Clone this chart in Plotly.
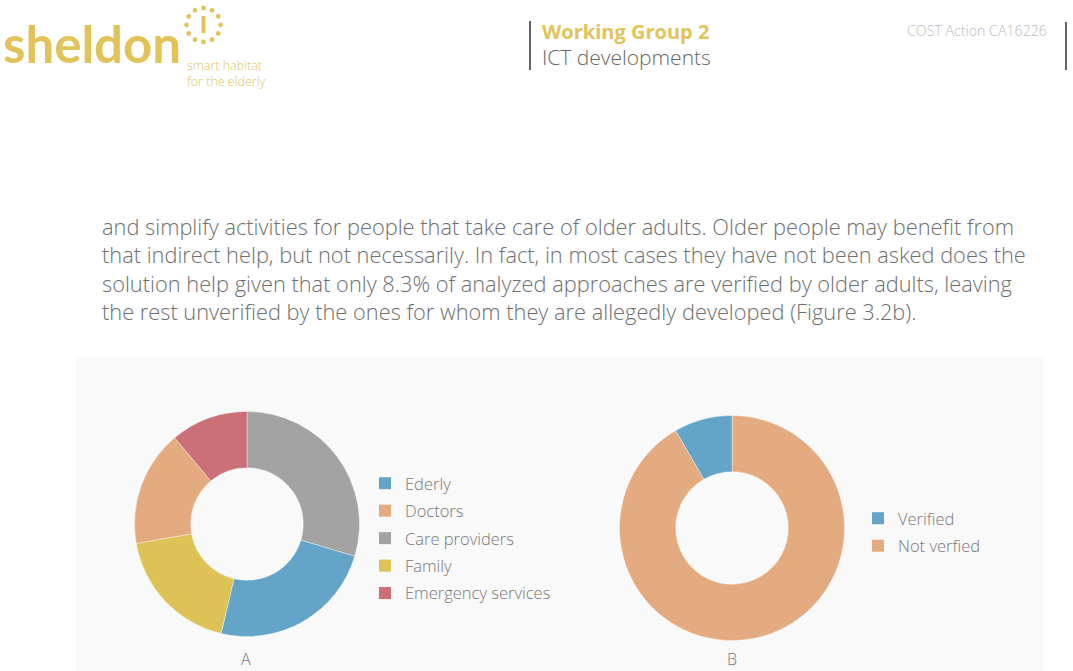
import math
import plotly.graph_objects as go

W, H = 1073, 671

# ---------------- data ----------------
legend_a = ["Ederly", "Doctors", "Care providers", "Family", "Emergency services"]
colors_a = ["#63a4c8", "#e4ab80", "#a3a3a3", "#ddc255", "#cb7076"]
# slice order as drawn clockwise from 12 o'clock
slices_a = ["Care providers", "Ederly", "Family", "Doctors", "Emergency services"]
values_a = [16, 13, 10, 9, 6]

legend_b = ["Verified", "Not verfied"]
colors_b = ["#63a4c8", "#e4ab80"]
# slice order as drawn clockwise from 12 o'clock
slices_b = ["Not verfied", "Verified"]
values_b = [11, 1]

paragraph = [
    "and simplify activities for people that take care of older adults. Older people may benefit from",
    "that indirect help, but not necessarily. In fact, in most cases they have not been asked does the",
    "solution help given that only 8.3% of analyzed approaches are verified by older adults, leaving",
    "the rest unverified by the ones for whom they are allegedly developed (Figure 3.2b).",
]

YELLOW = "#e2c35a"
GRAY_TXT = "#6e6e6e"
BODY = "Open Sans, Lato, sans-serif"


def px(x):
    return x / W


def py(y):
    return 1 - y / H


cmap_a = dict(zip(legend_a, colors_a))
cmap_b = dict(zip(legend_b, colors_b))

fig = go.Figure()

# pie A
cA, rA = (247, 524), 112.5
fig.add_trace(go.Pie(
    labels=slices_a, values=values_a, sort=False, direction="clockwise", rotation=0,
    hole=0.5, textinfo="none", hoverinfo="label+percent", showlegend=False,
    marker=dict(colors=[cmap_a[l] for l in slices_a], line=dict(color="rgba(255,255,255,0.6)", width=0.6)),
    domain=dict(x=[px(cA[0] - rA), px(cA[0] + rA)], y=[py(cA[1] + rA), py(cA[1] - rA)]),
))

# pie B
cB, rB = (732, 528), 112.5
fig.add_trace(go.Pie(
    labels=slices_b, values=values_b, sort=False, direction="clockwise", rotation=0,
    hole=0.5, textinfo="none", hoverinfo="label+percent", showlegend=False,
    marker=dict(colors=[cmap_b[l] for l in slices_b], line=dict(color="rgba(255,255,255,0.6)", width=0.6)),
    domain=dict(x=[px(cB[0] - rB), px(cB[0] + rB)], y=[py(cB[1] + rB), py(cB[1] - rB)]),
))

# legend entries
for lab, col in zip(legend_a, colors_a):
    fig.add_trace(go.Scatter(x=[None], y=[None], mode="markers", name=lab, legendgroup="a_" + lab,
                             marker=dict(symbol="square", size=12, color=col), legend="legend"))
for lab, col in zip(legend_b, colors_b):
    fig.add_trace(go.Scatter(x=[None], y=[None], mode="markers", name=lab, legendgroup="b_" + lab,
                             marker=dict(symbol="square", size=12, color=col), legend="legend2"))

legend_font = dict(family=BODY, size=16.5, color="#777777", weight=300)

shapes = []
# grey panel
shapes.append(dict(type="rect", xref="paper", yref="paper", x0=px(76), x1=px(1043), y0=0, y1=py(357),
                   fillcolor="#f9f9f9", line=dict(width=0), layer="below"))
# header separators
shapes.append(dict(type="line", xref="paper", yref="paper", x0=px(530), x1=px(530), y0=py(70), y1=py(21),
                   line=dict(color="#666666", width=2)))
shapes.append(dict(type="line", xref="paper", yref="paper", x0=px(1066), x1=px(1066), y0=py(70), y1=py(22),
                   line=dict(color="#666666", width=2)))
# logo icon: ring of dots and a bar
lc = (203.5, 25)
for k in range(12):
    a = k * math.pi / 6
    x = lc[0] + 17 * math.sin(a)
    y = lc[1] - 17 * math.cos(a)
    shapes.append(dict(type="circle", xref="paper", yref="paper",
                       x0=px(x - 2.4), x1=px(x + 2.4), y0=py(y + 2.4), y1=py(y - 2.4),
                       fillcolor=YELLOW, line=dict(width=0)))
shapes.append(dict(type="line", xref="paper", yref="paper", x0=px(lc[0]), x1=px(lc[0]),
                   y0=py(33), y1=py(16), line=dict(color=YELLOW, width=4)))

ann = []


def text(x, y, s, size, color, family=BODY, weight=None, xanchor="left"):
    f = dict(family=family, size=size, color=color)
    if weight:
        f["weight"] = weight
    ann.append(dict(x=px(x), y=py(y), xref="paper", yref="paper", text=s, showarrow=False,
                    xanchor=xanchor, yanchor="middle", align="left", borderpad=0, font=f))


text(2, 44, "sheldon", 51, YELLOW, family="Lato, sans-serif", weight=700)
text(186, 73, "smart habitat<br>for the elderly", 12.5, YELLOW, weight=300)
text(541, 32, "Working Group 2", 20, YELLOW, weight=700)
text(541, 57, "ICT developments", 21, "#666666", weight=300)
text(906, 30, "COST Action CA16226", 14.2, "#bbbbbb", weight=300)

text(101, 269, "<br>".join(paragraph), 21.8, GRAY_TXT, weight=300)

text(246, 659, "A", 16, "#777777", xanchor="center", weight=300)
text(732, 659, "B", 16, "#777777", xanchor="center", weight=300)

fig.update_layout(
    width=W, height=H,
    margin=dict(l=0, r=0, t=0, b=0),
    paper_bgcolor="white", plot_bgcolor="rgba(0,0,0,0)",
    xaxis=dict(visible=False), yaxis=dict(visible=False),
    shapes=shapes, annotations=ann,
    legend=dict(x=px(365), y=py(466), xanchor="left", yanchor="top", bgcolor="rgba(0,0,0,0)",
                font=legend_font, itemclick=False, itemdoubleclick=False, tracegroupgap=3),
    legend2=dict(x=px(858), y=py(501), xanchor="left", yanchor="top", bgcolor="rgba(0,0,0,0)",
                 font=legend_font, itemclick=False, itemdoubleclick=False, tracegroupgap=3),
)

fig.write_html("out.html")
